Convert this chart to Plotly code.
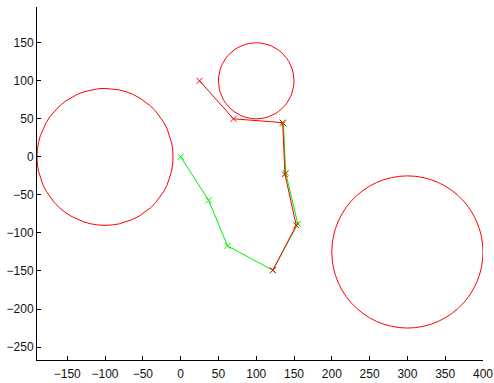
import numpy as np
import plotly.graph_objects as go

# Obstacles (circles): centers and radii
circle_cx = [-100, 100, 300]
circle_cy = [0, 100, -125]
circle_r = [90, 50, 100]

# Red path
red_x = [25, 70, 135, 138, 153, 122]
red_y = [100, 50, 45, -23, -90, -149]

# Green path
green_x = [0, 37, 62, 122, 155, 139, 136]
green_y = [0, -57, -117, -149, -88, -21, 44]

x_ticks = [-150, -100, -50, 0, 50, 100, 150, 200, 250, 300, 350, 400]
y_ticks = [-250, -200, -150, -100, -50, 0, 50, 100, 150]

fig = go.Figure()

t = np.linspace(0, 2 * np.pi, 61)
for cx, cy, r in zip(circle_cx, circle_cy, circle_r):
    fig.add_trace(go.Scatter(
        x=cx + r * np.cos(t), y=cy + r * np.sin(t), mode="lines",
        line=dict(color="#ff0000", width=1), hoverinfo="skip", showlegend=False))

fig.add_trace(go.Scatter(
    x=green_x, y=green_y, mode="lines+markers",
    line=dict(color="#00ee00", width=1),
    marker=dict(symbol="x-thin", size=6, line=dict(color="#00ee00", width=1)),
    showlegend=False))

fig.add_trace(go.Scatter(
    x=red_x, y=red_y, mode="lines+markers",
    line=dict(color="#ff0000", width=1),
    marker=dict(symbol="x-thin", size=6, line=dict(color="#ff0000", width=1)),
    showlegend=False))

axis_common = dict(ticks="inside", ticklen=4, tickcolor="black", showline=True,
                   linecolor="black", linewidth=1, showgrid=False, zeroline=False,
                   mirror=False, tickfont=dict(color="#111111", size=12))

fig.update_layout(
    template="none",
    width=494, height=383,
    margin=dict(l=37, r=11, t=7, b=23, autoexpand=False),
    plot_bgcolor="white", paper_bgcolor="white",
    font=dict(family="Liberation Sans, Arial, sans-serif", size=12, color="black"),
    xaxis=dict(range=[-190, 400], tickvals=x_ticks, ticklabelstandoff=3, **axis_common),
    yaxis=dict(range=[-267, 197], tickvals=y_ticks, **axis_common),
)

fig.write_html("out.html", config={"displayModeBar": False},
               post_script="document.body.style.margin='0';")
